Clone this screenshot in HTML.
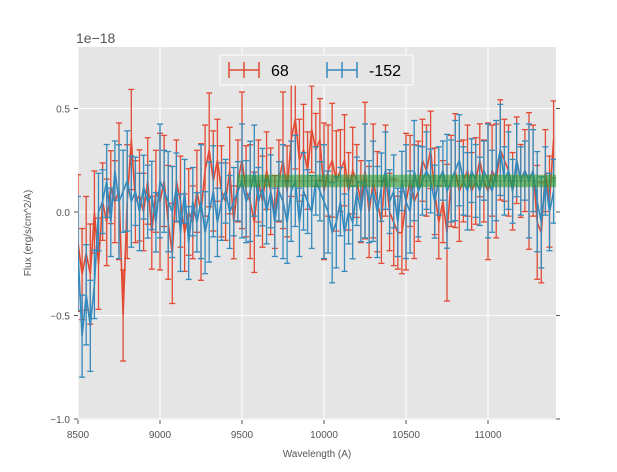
<!DOCTYPE html>
<html><head><meta charset="utf-8"><style>
body{margin:0;background:#fff;font-family:"Liberation Sans",sans-serif}
svg text{font-family:"Liberation Sans",sans-serif}
</style></head><body>
<svg id="chart" width="617" height="467">
<rect x="0" y="0" width="617" height="467" fill="#fff"/>
<rect x="78" y="47" width="478" height="373" fill="#e5e5e5"/>
<g id="grid"></g>
<g id="series"></g>
<g id="band"></g>
<g id="axes"></g>
<text x="76" y="43" font-size="14" fill="#555">1e−18</text>
<text x="317" y="457" font-size="10" fill="#555" text-anchor="middle">Wavelength (A)</text>
<text x="31" y="233" font-size="10" fill="#555" text-anchor="middle" transform="rotate(-90 31 233)">Flux (erg/s/cm^2/A)</text>
<g>
<rect x="220" y="55" width="193" height="30" fill="#e5e5e5" stroke="#fff"/>
<g>
<line x1="229" y1="70" x2="259" y2="70" stroke="#e24a33" stroke-width="1.5"/>
<line x1="244" y1="62" x2="244" y2="78" stroke="#e24a33" stroke-width="1.5"/>
<line x1="229" y1="62" x2="229" y2="78" stroke="#e24a33" stroke-width="1.5"/>
<line x1="259" y1="62" x2="259" y2="78" stroke="#e24a33" stroke-width="1.5"/>
<text x="271" y="76" font-size="16" fill="#000">68</text></g>
<g>
<line x1="327" y1="70" x2="357" y2="70" stroke="#348abd" stroke-width="1.5"/>
<line x1="342" y1="62" x2="342" y2="78" stroke="#348abd" stroke-width="1.5"/>
<line x1="327" y1="62" x2="327" y2="78" stroke="#348abd" stroke-width="1.5"/>
<line x1="357" y1="62" x2="357" y2="78" stroke="#348abd" stroke-width="1.5"/>
<text x="369" y="76" font-size="16" fill="#000">-152</text></g>
</g>
</svg>
<script>
const xStart = 8500, xStep = 25;
const redVals = [-0.15,-0.30,-0.20,-0.30,0.00,-0.25,0.05,-0.05,0.12,0.05,
0.10,-0.50,0.05,0.35,0.05,0.08,0.00,0.15,-0.10,0.10,
0.05,0.15,-0.05,-0.20,0.15,0.05,-0.10,0.00,-0.05,0.10,
0.00,0.20,0.30,0.15,0.25,0.10,0.05,0.20,-0.05,0.15,
0.25,0.10,0.05,-0.05,0.15,0.05,0.20,0.10,0.00,0.15,
0.25,0.10,0.35,0.45,0.25,0.30,0.20,0.40,0.30,0.35,
0.10,0.20,0.25,0.15,0.20,0.25,0.10,0.20,0.15,0.05,
0.20,0.00,0.15,0.05,-0.05,0.20,0.00,-0.05,-0.10,-0.10,
0.05,0.15,0.05,0.10,0.25,0.20,0.30,0.10,-0.05,0.05,
-0.10,0.15,0.20,0.10,0.15,0.20,0.10,0.15,0.25,0.15,
0.10,0.20,0.15,0.30,0.25,0.20,0.10,0.25,0.15,0.20,
0.15,0.20,-0.05,-0.10,0.20,0.05,0.35];
const blueVals = [-0.20,-0.60,-0.40,-0.55,-0.35,0.00,0.05,0.15,-0.05,0.20,
0.05,0.10,0.15,0.05,0.10,0.00,0.12,0.05,0.08,-0.05,
0.15,0.10,0.05,0.00,0.12,-0.10,0.10,-0.15,0.05,-0.05,
0.05,-0.10,0.00,0.10,-0.05,0.05,0.10,0.00,0.05,0.10,
0.15,0.05,0.10,0.20,0.05,0.12,0.00,0.10,-0.05,0.10,
0.05,-0.05,0.10,0.15,-0.05,0.10,0.05,0.00,0.15,0.10,
0.05,0.00,-0.10,-0.05,0.05,-0.10,0.00,-0.05,0.10,0.00,
0.15,0.05,0.10,0.00,0.12,0.20,0.05,0.10,-0.05,0.15,
0.05,0.00,0.20,0.10,0.15,0.20,0.15,0.05,0.15,0.20,
0.10,0.15,0.20,0.25,0.15,0.10,0.20,0.15,0.10,0.20,
0.15,0.10,0.20,0.30,0.15,0.20,0.10,0.25,0.15,0.20,
0.15,0.20,0.05,-0.05,0.15,0.00,0.10];
const redErr = [0.30,0.20,0.25,0.22,0.18,0.20,0.17,0.19,0.16,0.18];
const blueErr = [0.25,0.18,0.22,0.20,0.15,0.17,0.14,0.16,0.15,0.13];
const xTicks = [8500,9000,9500,10000,10500,11000];
const xTickLabels = ["8500","9000","9500","10000","10500","11000"];
const yTicks = [-1.0,-0.5,0.0,0.5];
const yTickLabels = ["−1.0","−0.5","0.0","0.5"];
const bandRange = [9470, 11415];
const bandLow = [0.12], bandHigh = [0.18], bandMid = [0.15];

const X = v => 78 + (v - 8500) / 500 * 82;
const Y = v => 212 - v * 207;
const NS = "http://www.w3.org/2000/svg";
function mk(tag, attrs, parent){const e=document.createElementNS(NS,tag);for(const k in attrs)e.setAttribute(k,attrs[k]);parent.appendChild(e);return e;}
const grid=document.getElementById('grid'), axes=document.getElementById('axes');
xTicks.forEach((t,i)=>{
  const gl=mk('line',{x1:X(t),x2:X(t),y1:47,y2:420,stroke:'#fff','stroke-width':1},grid);
  
  
  mk('line',{x1:X(t),x2:X(t),y1:420,y2:424,stroke:'#555'},axes);
  const tx=mk('text',{x:X(t),y:438,'font-size':10,fill:'#555','text-anchor':'middle'},axes);
  tx.textContent=xTickLabels[i];
  
  
});
yTicks.forEach((t,i)=>{
  const gl=mk('line',{x1:78,x2:556,y1:Y(t),y2:Y(t),stroke:'#fff','stroke-width':1},grid);
  
  
  mk('line',{x1:74,x2:78,y1:Y(t),y2:Y(t),stroke:'#555'},axes);
  mk('line',{x1:556,x2:560,y1:Y(t),y2:Y(t),stroke:'#555'},axes);
  const tx=mk('text',{x:70,y:Y(t)+4,'font-size':10,fill:'#555','text-anchor':'end'},axes);
  tx.textContent=yTickLabels[i];
  
  
});
const band=document.getElementById('band');
const br=mk('rect',{x:X(bandRange[0]),y:Y(bandHigh[0]),width:X(bandRange[1])-X(bandRange[0]),height:Y(bandLow[0])-Y(bandHigh[0]),fill:'#2e9a2e','fill-opacity':0.6},band);


const bl=mk('line',{x1:X(bandRange[0]),x2:X(bandRange[1]),y1:Y(bandMid[0]),y2:Y(bandMid[0]),stroke:'#2a7a2a','stroke-width':1,'stroke-opacity':0.4},band);



const ser=document.getElementById('series');
function draw(vals, errs, color, name){
  const g=mk('g',{},ser);
  
  
  let d='';
  vals.forEach((v,i)=>{
    const x=X(xStart+i*xStep), e=errs[i%errs.length]*1.1;
    const y1=Y(v+e), y2=Y(v-e);
    mk('line',{x1:x,x2:x,y1:y1,y2:y2,stroke:color,'stroke-width':1.3},g);
    mk('line',{x1:x-3,x2:x+3,y1:y1,y2:y1,stroke:color,'stroke-width':1.3},g);
    mk('line',{x1:x-3,x2:x+3,y1:y2,y2:y2,stroke:color,'stroke-width':1.3},g);
    d+=(i?'L':'M')+x+','+Y(v);
  });
  const p=mk('path',{d:d,fill:'none',stroke:color,'stroke-width':1.6},g);
  
  
}
const clip=mk('clipPath',{id:'pc'},document.getElementById('chart'));
mk('rect',{x:78,y:47,width:478,height:373},clip);
ser.setAttribute('clip-path','url(#pc)');
draw(redVals, redErr, '#e24a33', 'series-68');
draw(blueVals, blueErr, '#348abd', 'series-minus152');
</script>
</body></html>
